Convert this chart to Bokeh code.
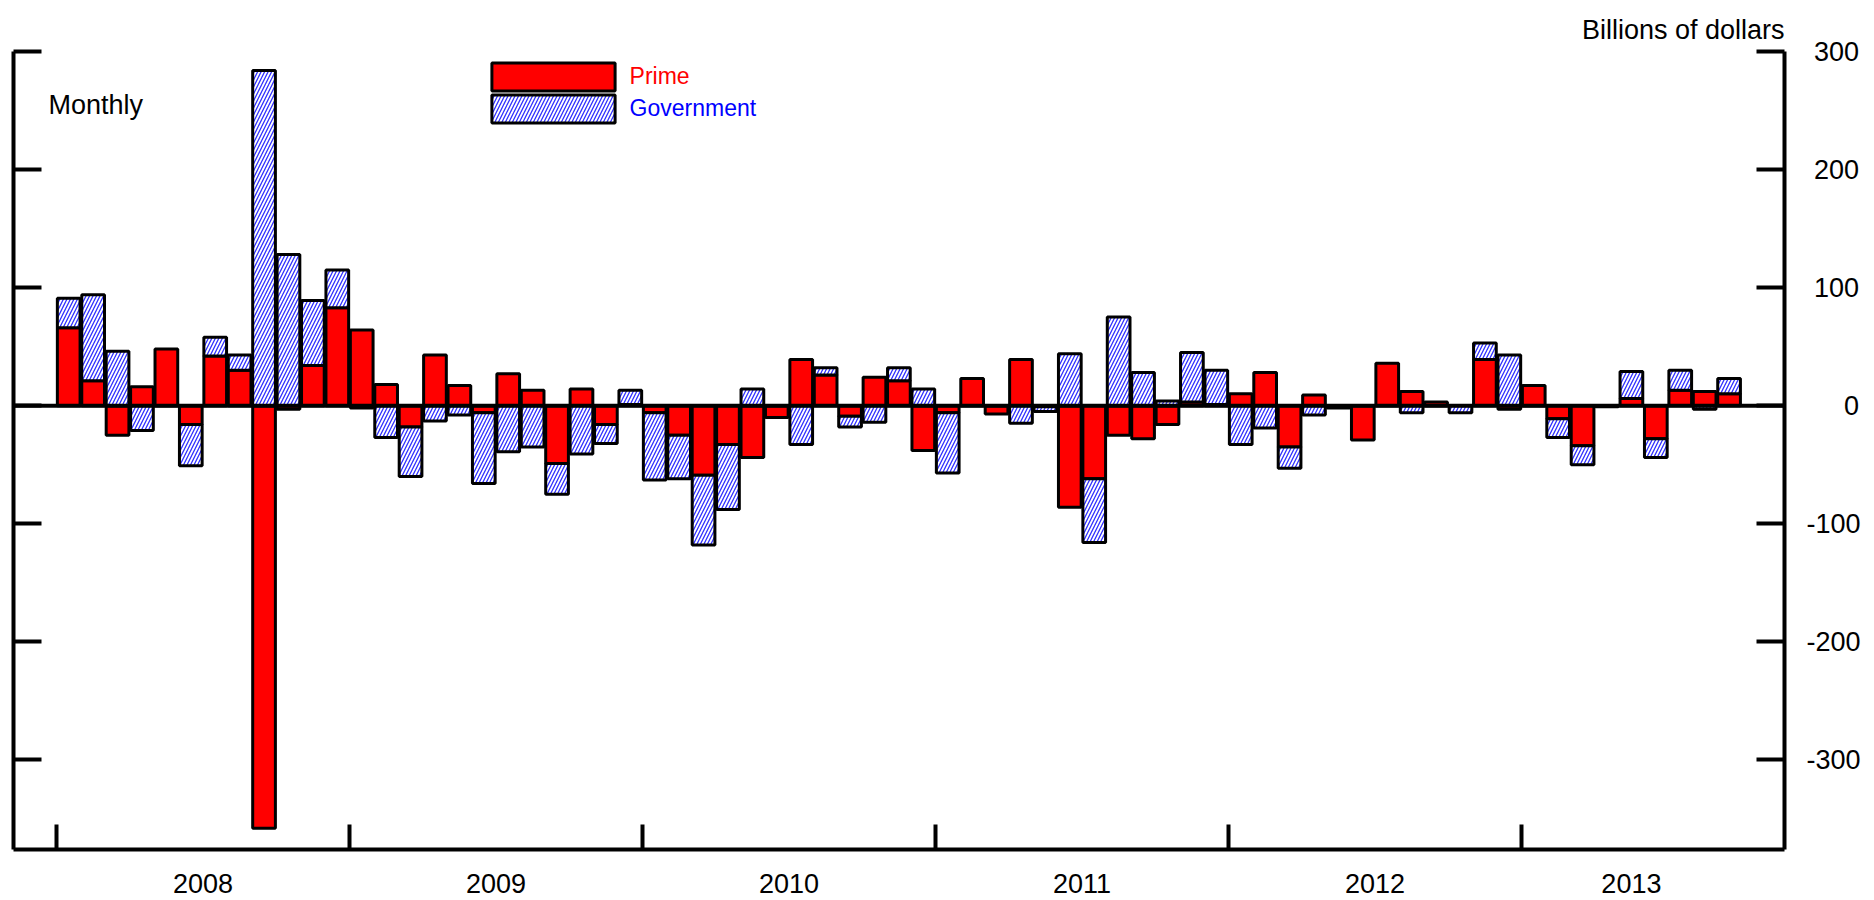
import numpy as np
from bokeh.plotting import figure
from bokeh.models import (Range1d, LinearAxis, FixedTicker, Span, Legend, LegendItem,
                          Label, ColumnDataSource)
from bokeh.embed import file_html
from bokeh.resources import INLINE

# ---- data (billions of dollars, monthly, Jan 2008 - Sep 2013) ----
years = ["2008", "2009", "2010", "2011", "2012", "2013"]
prime = [66, 21, -25, 16, 48, -16, 42, 30, -358, -3, 34, 83,
         64, 18, -18, 43, 17, -6, 27, 13, -49, 14, -16, 1,
         -6, -25, -59, -33, -44, -10, 39, 26, -9, 24, 21, -38,
         -6, 23, -7, 39, -1, -86, -62, -25, -28, -16, 3, 1,
         10, 28, -35, 9, -2, -29, 36, 12, 3, 0, 39, -3,
         17, -11, -34, -1, 6, -28, 13, 12, 10]
government = [25, 73, 46, -21, 0, -35, 16, 13, 284, 128, 55, 32,
              -2, -27, -42, -13, -8, -60, -39, -35, -26, -41, -16, 12,
              -57, -37, -59, -55, 14, 0, -33, 6, -9, -14, 11, 14,
              -51, 0, 0, -15, -4, 44, -54, 75, 28, 4, 42, 29,
              -33, -19, -18, -8, 0, 0, 0, -6, 0, -6, 14, 43,
              0, -16, -16, 0, 23, -16, 17, -3, 13]
y_ticks = [-300, -200, -100, 0, 100, 200, 300]
y_tick_labels = ["-300", "-200", "-100", "0", "100", "200", "300"]

FONT = "Liberation Sans"
FS = "27px"

n = len(prime)
p_arr = np.array(prime, dtype=float)
g_arr = np.array(government, dtype=float)
x = np.arange(n) + 0.5
same = (np.sign(p_arr) == np.sign(g_arr)) & (p_arr != 0)
g_base = np.where(same, p_arr, 0.0)
src = ColumnDataSource(dict(x=x, p_bot=np.zeros(n), p_top=p_arr,
                            g_bot=g_base, g_top=g_base + g_arr))

FH = 798
p = figure(frame_width=1771, frame_height=FH,
           x_range=Range1d(-1.761, 70.77), y_range=Range1d(-376, 300),
           y_axis_location="right", output_backend="svg", toolbar_location=None,
           min_border_left=13, min_border_right=0, min_border_top=51, min_border_bottom=50)
p.background_fill_color = "white"
p.outline_line_color = None
p.grid.visible = False

r_prime = p.vbar(x="x", width=0.93, bottom="p_bot", top="p_top", source=src,
                 fill_color="#ff0000", line_color="black", line_width=3)
r_gov = p.vbar(x="x", width=0.93, bottom="g_bot", top="g_top", source=src,
               fill_color="white", hatch_pattern="/", hatch_color="#3030ff",
               hatch_scale=7, hatch_weight=1.3, line_color="black", line_width=3)

p.add_layout(Span(location=0, dimension="width", line_color="black", line_width=4))

# x axis: year boundary ticks (minor) and centred year labels (major)
n_years = len(years)
label_pos = [12 * i + 6 for i in range(n_years - 1)]
label_pos.append(12 * (n_years - 1) + (n - 12 * (n_years - 1)) / 2)
xa = p.xaxis[0]
xa.ticker = FixedTicker(ticks=label_pos, minor_ticks=[12 * i for i in range(n_years)])
xa.major_label_overrides = {lp: yr for lp, yr in zip(label_pos, years)}
xa.major_tick_in = 0
xa.major_tick_out = 0
xa.minor_tick_in = 25
xa.minor_tick_out = 0
xa.minor_tick_line_width = 4
xa.minor_tick_line_color = "black"
xa.axis_line_width = 4
xa.axis_line_color = "black"
xa.major_label_standoff = 24
xa.major_label_text_font = FONT
xa.major_label_text_font_size = FS
xa.major_label_text_color = "black"

# right y axis with labels (roughly centred with figure/punctuation spaces)
def centred(lbl):
    if lbl.startswith("-"):
        return lbl
    pad = "\u2007" * (3 - len(lbl))
    return "\u2008" + pad + lbl

ya = p.yaxis[0]
ya.ticker = FixedTicker(ticks=y_ticks)
ya.major_label_overrides = {t: centred(l) for t, l in zip(y_ticks, y_tick_labels)}
ya.major_tick_in = 28
ya.major_tick_out = 0
ya.major_tick_line_width = 4
ya.minor_tick_line_color = None
ya.axis_line_width = 4
ya.major_label_standoff = 22
ya.major_label_text_font = FONT
ya.major_label_text_font_size = FS
ya.major_label_text_color = "black"

# left y axis, ticks only
la = LinearAxis(ticker=FixedTicker(ticks=y_ticks), major_tick_in=28, major_tick_out=0,
                major_tick_line_width=4, minor_tick_line_color=None, axis_line_width=4,
                major_label_overrides={t: "" for t in y_ticks}, major_label_standoff=0)
p.add_layout(la, "left")

# title
p.title.text = "Billions of dollars"
p.title.align = "right"
p.title.text_font = FONT
p.title.text_font_size = FS
p.title.text_font_style = "normal"
p.title.text_color = "black"
p.title.standoff = 14

# legends (area legend glyphs are inset by 10% of their box)
GW, GH = 154, 35
leg1 = Legend(items=[LegendItem(label="Prime", renderers=[r_prime])],
              location=(462.6, FH - 7.5 - GH), glyph_width=GW, glyph_height=GH,
              label_height=GH, label_standoff=0, padding=0, margin=0, spacing=0,
              border_line_color=None, background_fill_alpha=0,
              label_text_color="#ff0000", label_text_font=FONT, label_text_font_size="23px")
leg2 = Legend(items=[LegendItem(label="Government", renderers=[r_gov])],
              location=(462.6, FH - 39.5 - GH), glyph_width=GW, glyph_height=GH,
              label_height=GH, label_standoff=0, padding=0, margin=0, spacing=0,
              border_line_color=None, background_fill_alpha=0,
              label_text_color="#0000ff", label_text_font=FONT, label_text_font_size="23px")
p.add_layout(leg1)
p.add_layout(leg2)

p.add_layout(Label(x=-0.33, y=255, text="Monthly", text_font=FONT, text_font_size=FS,
                   text_color="black", text_baseline="alphabetic"))

open("out.html", "w").write(file_html(p, INLINE))
